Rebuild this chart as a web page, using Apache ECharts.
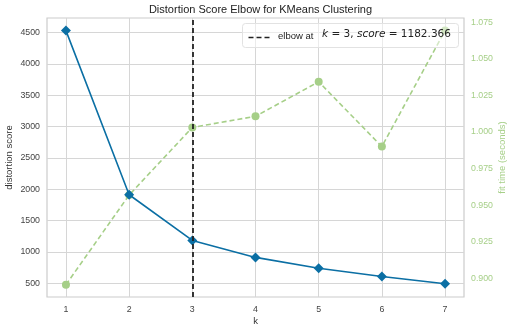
<!DOCTYPE html>
<html>
<head>
<meta charset="utf-8">
<script src="https://cdn.jsdelivr.net/npm/echarts@6/dist/echarts.min.js"></script>
<style>html,body{margin:0;padding:0;background:#fff}#c{width:515px;height:331px}</style>
</head>
<body>
<div id="c"></div>
<script>
var kValues = [1, 2, 3, 4, 5, 6, 7];
var distortion = [4532, 1912, 1182.366, 912, 738, 606, 492];
var fitTime = [0.8956, 0.9569, 1.0031, 1.0107, 1.0343, 0.9900, 1.0693];
var xTicks = [1, 2, 3, 4, 5, 6, 7];
var leftTicks = [500, 1000, 1500, 2000, 2500, 3000, 3500, 4000, 4500];
var rightTicks = [0.900, 0.925, 0.950, 0.975, 1.000, 1.025, 1.050, 1.075];
var elbowK = 3;
var elbowScore = 1182.366;

var BLUE = '#0b6fa4';
var GREEN = '#a6cf88';
var FONT = '"Liberation Sans", Arial, sans-serif';

var chart = echarts.init(document.getElementById('c'), null, {renderer: 'canvas'});
chart.setOption({
  animation: false,
  backgroundColor: '#fff',
  title: {
    text: 'Distortion Score Elbow for KMeans Clustering',
    left: 255.5, textAlign: 'center', top: -1,
    textStyle: {fontFamily: FONT, fontSize: 11, fontWeight: 'normal', color: '#222'}
  },
  grid: {left: 47, right: 51, top: 18, bottom: 34, show: true, borderColor: '#cccccc', borderWidth: 1.2,
    backgroundColor: '#fff', containLabel: false, outerBoundsMode: 'none'},
  xAxis: {
    type: 'value', min: 0.7, max: 7.3,
    name: 'k', nameLocation: 'middle', nameGap: 19, nameMoveOverlap: false,
    nameTextStyle: {fontFamily: FONT, fontSize: 9.5, color: '#333'},
    axisLine: {show: false}, axisTick: {show: false, customValues: xTicks},
    axisLabel: {customValues: xTicks, fontFamily: FONT, fontSize: 8.8, color: '#444', margin: 8,
      formatter: function (v) { return String(v); }},
    splitLine: {show: true, lineStyle: {color: '#d6d6d6', width: 1}}
  },
  yAxis: [{
    type: 'value', min: 280, max: 4733,
    name: 'distortion score', nameLocation: 'middle', nameGap: 33, nameMoveOverlap: false,
    nameTextStyle: {fontFamily: FONT, fontSize: 9.5, color: '#333'},
    axisLine: {show: false}, axisTick: {show: false, customValues: leftTicks},
    axisLabel: {customValues: leftTicks, fontFamily: FONT, fontSize: 8.8, color: '#444', margin: 7,
      formatter: function (v) { return String(v); }},
    splitLine: {show: true, lineStyle: {color: '#d6d6d6', width: 1}}
  }, {
    type: 'value', min: 0.8872, max: 1.0779, position: 'right',
    name: 'fit time (seconds)', nameLocation: 'middle', nameGap: 33, nameMoveOverlap: false,
    nameTextStyle: {fontFamily: FONT, fontSize: 9.5, color: GREEN},
    axisLine: {show: false}, axisTick: {show: false, customValues: rightTicks},
    axisLabel: {customValues: rightTicks, fontFamily: FONT, fontSize: 8.8, color: GREEN, margin: 7,
      formatter: function (v) { return v.toFixed(3); }},
    splitLine: {show: false}
  }],
  series: [{
    name: 'fit time', type: 'line', yAxisIndex: 1, z: 2,
    data: kValues.map(function (k, i) { return [k, fitTime[i]]; }),
    symbol: 'circle', symbolSize: 8,
    itemStyle: {color: GREEN},
    lineStyle: {color: GREEN, width: 1.6, type: [5, 3]}
  }, {
    name: 'distortion score', type: 'line', yAxisIndex: 0, z: 3,
    data: kValues.map(function (k, i) { return [k, distortion[i]]; }),
    symbol: 'diamond', symbolSize: 10,
    itemStyle: {color: BLUE},
    lineStyle: {color: BLUE, width: 1.6},
    markLine: {
      silent: true, symbol: 'none', label: {show: false},
      lineStyle: {color: '#222', width: 1.8, type: [5, 3]},
      data: [{xAxis: elbowK}]
    }
  }],
  graphic: [{
    type: 'rect', left: 242, top: 23, z: 100,
    shape: {width: 216, height: 24, r: 3},
    style: {fill: 'rgba(255,255,255,0.5)', stroke: '#e2e2e2', lineWidth: 1}
  }, {
    type: 'line', left: 246, top: 35, z: 101,
    shape: {x1: 0, y1: 0, x2: 23, y2: 0},
    style: {stroke: '#222', lineWidth: 1.6, lineDash: [5, 3]}
  }, {
    type: 'text', left: 278, top: 31, z: 101,
    style: {text: 'elbow at', fontFamily: FONT, fontSize: 9.5, fill: '#222'}
  }, {
    type: 'text', left: 322, top: 29, z: 101,
    style: {
      text: '{i|k}{m| = 3, }{i|score}{m| = ' + elbowScore.toFixed(3) + '}',
      rich: {
        i: {fontFamily: '"DejaVu Sans"', fontStyle: 'italic', fontSize: 10.5, fill: '#222', lineHeight: 14},
        m: {fontFamily: '"DejaVu Sans"', fontSize: 10.5, fill: '#222', lineHeight: 14}
      }
    }
  }]
});
</script>
</body>
</html>
